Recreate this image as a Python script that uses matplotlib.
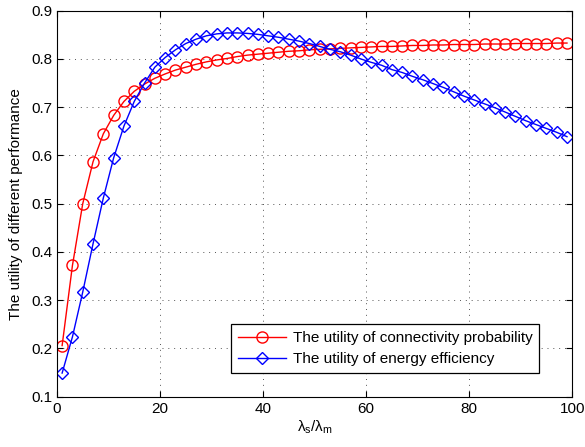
import numpy as np
import matplotlib
matplotlib.use("Agg")
import matplotlib.pyplot as plt

# -----------------------------
# DATA
# -----------------------------
ratio = list(range(1, 100, 2))

connectivity = [0.206, 0.372, 0.500, 0.587, 0.645, 0.683, 0.712, 0.733, 0.748, 0.760,
                0.769, 0.777, 0.783, 0.789, 0.794, 0.798, 0.801, 0.805, 0.808, 0.810,
                0.812, 0.814, 0.816, 0.817, 0.819, 0.820, 0.821, 0.822, 0.823, 0.824,
                0.825, 0.826, 0.826, 0.827, 0.828, 0.828, 0.829, 0.829, 0.830, 0.830,
                0.830, 0.831, 0.831, 0.831, 0.832, 0.832, 0.832, 0.832, 0.833, 0.833]

energy = [0.149, 0.224, 0.317, 0.417, 0.512, 0.595, 0.661, 0.712, 0.750, 0.783,
          0.803, 0.819, 0.832, 0.841, 0.848, 0.852, 0.854, 0.854, 0.853, 0.851,
          0.848, 0.845, 0.841, 0.837, 0.832, 0.826, 0.820, 0.815, 0.808, 0.800,
          0.793, 0.787, 0.778, 0.772, 0.764, 0.757, 0.749, 0.741, 0.732, 0.723,
          0.715, 0.707, 0.699, 0.690, 0.681, 0.672, 0.664, 0.656, 0.648, 0.639]

xticks = [0, 20, 40, 60, 80, 100]
yticks = [0.1, 0.2, 0.3, 0.4, 0.5, 0.6, 0.7, 0.8, 0.9]

# -----------------------------
# PLOT
# -----------------------------
plt.rcParams["font.family"] = ["Liberation Sans", "DejaVu Sans"]
plt.rcParams["mathtext.default"] = "regular"
plt.rcParams["font.size"] = 11

fig = plt.figure(figsize=(5.85, 4.47), dpi=100)
ax = fig.add_axes([0.0974, 0.1125, 0.8806, 0.8635])

ax.plot(ratio, connectivity, color="red", marker="o", markersize=8,
        markerfacecolor="none", markeredgewidth=1.0, linewidth=1.0,
        label="The utility of connectivity probability")
ax.plot(ratio, energy, color="blue", marker="D", markersize=6.5,
        markerfacecolor="none", markeredgewidth=1.0, linewidth=1.0,
        label="The utility of energy efficiency")

ax.set_xlim(0, 100)
ax.set_ylim(0.1, 0.9)
ax.set_xticks(xticks)
ax.set_yticks(yticks)
ax.tick_params(direction="in", length=4, top=True, right=True, labelsize=11)
ax.grid(True, linestyle=(0, (1, 5)), color="#555555", linewidth=0.7)
for s in ax.spines.values():
    s.set_linewidth(0.8)

ax.set_xlabel(r"$\lambda_s/\lambda_m$", labelpad=2)
ax.set_ylabel("The utility of different performance", labelpad=6)

leg = ax.legend(loc="lower right", bbox_to_anchor=(0.945, 0.05), fancybox=False,
                edgecolor="black", framealpha=1, fontsize=11, borderpad=0.45,
                handlelength=3.2, handletextpad=0.4, labelspacing=0.45,
                borderaxespad=0.3)
leg.get_frame().set_linewidth(0.9)

plt.savefig("out.png", dpi=100)
